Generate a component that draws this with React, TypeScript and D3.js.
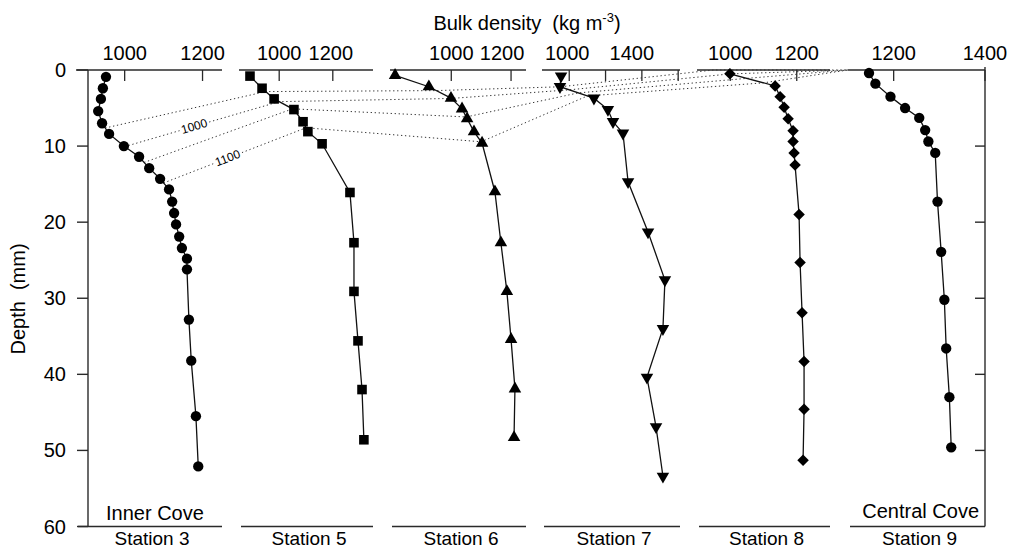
import React from 'react'
import * as d3 from 'd3'

// station names and the x-axis domains/ticks of each small panel
const stations = ['Station 3', 'Station 5', 'Station 6', 'Station 7', 'Station 8', 'Station 9']
const domains = [
  [875, 1250],
  [850, 1350],
  [795, 1250],
  [850, 1610],
  [900, 1300],
  [1100, 1400],
]
const tickValues = [
  [1000, 1200],
  [1000, 1200],
  [1000, 1200],
  [1000, 1200, 1400, 1600],
  [1000, 1200],
  [1200, 1400],
]
const tickLabels = [
  ['1000', '1200'],
  ['1000', '1200'],
  ['1000', '1200'],
  ['1000', '', '1400', ''],
  ['1000', '1200'],
  ['1200', '1400'],
]
const depthTicks = [0, 10, 20, 30, 40, 50, 60]

// depth (mm) and bulk density (kg m-3) of each core
const st3Depth = [0.9, 2.4, 3.8, 5.4, 7.0, 8.4, 10.0, 11.4, 12.9, 14.3, 15.7, 17.3, 18.8, 20.3, 21.9, 23.4, 24.8, 26.2, 32.8, 38.2, 45.5, 52.1]
const st3Density = [952, 944, 939, 932, 942, 960, 998, 1037, 1063, 1091, 1114, 1122, 1127, 1132, 1140, 1147, 1160, 1160, 1165, 1171, 1183, 1189]

const st5Depth = [0.8, 2.4, 3.8, 5.2, 6.8, 8.1, 9.7, 16.1, 22.7, 29.1, 35.6, 42.0, 48.6]
const st5Density = [891, 936, 981, 1055, 1089, 1107, 1160, 1264, 1279, 1279, 1294, 1309, 1316]

const st6Depth = [0.7, 2.2, 3.7, 5.1, 6.4, 8.1, 9.6, 16.0, 22.7, 29.1, 35.4, 41.9, 48.3]
const st6Density = [812, 925, 999, 1036, 1053, 1076, 1103, 1146, 1166, 1186, 1200, 1213, 1210]

const st7Depth = [0.8, 2.2, 3.7, 5.2, 6.8, 8.3, 14.7, 21.3, 27.6, 34.0, 40.4, 46.9, 53.4]
const st7Density = [955, 949, 1136, 1213, 1241, 1296, 1324, 1434, 1527, 1516, 1428, 1478, 1516]

const st8Depth = [0.5, 2.1, 3.5, 4.9, 6.4, 8.0, 9.4, 10.9, 12.5, 19.0, 25.3, 31.9, 38.3, 44.6, 51.3]
const st8Density = [999, 1135, 1150, 1162, 1174, 1189, 1189, 1192, 1195, 1207, 1210, 1216, 1222, 1222, 1219]

const st9Depth = [0.4, 1.8, 3.5, 5.0, 6.3, 7.9, 9.4, 10.9, 17.3, 23.9, 30.2, 36.6, 43.0, 49.6]
const st9Density = [1146, 1160, 1193, 1225, 1256, 1269, 1276, 1291, 1296, 1304, 1311, 1315, 1322, 1326]

// isopycnals drawn as dotted lines between the cores
const isoLevels = [950, 1000, 1050, 1100]
const isoLabels = ['', '1000', '', '1100']

const depths = [st3Depth, st5Depth, st6Depth, st7Depth, st8Depth, st9Depth]
const densities = [st3Density, st5Density, st6Density, st7Density, st8Density, st9Density]
const markers = ['circle', 'square', 'triangle', 'triangleDown', 'diamond', 'circle']

// layout
const W = 1010
const H = 550
const yTop = 70
const yBot = 526.5
const panelX = [
  [76, 222],
  [239, 373],
  [390, 526],
  [542, 680],
  [697, 830],
  [848, 985],
]
const labelShift = [[0, 0], [0, -2], [0, -9], [-2, 0, -10, 0], [0, 0], [0, 0]]
const font = 'Liberation Sans, Arial, Helvetica, sans-serif'
const axisColor = '#2a2a2a'

type P = { d: number; v: number }

// depth where a profile crosses a density level (deepest crossing)
function crossing(prof: P[], level: number): P {
  for (let j = prof.length - 1; j >= 0; j--) {
    if (prof[j].v < level) {
      if (j === prof.length - 1) return { d: prof[j].d, v: level }
      const a = prof[j]
      const b = prof[j + 1]
      const t = (level - a.v) / (b.v - a.v)
      return { d: a.d + t * (b.d - a.d), v: level }
    }
  }
  return { d: 0, v: level }
}

const symbolPath = (kind: string) => {
  if (kind === 'circle') return d3.symbol(d3.symbolCircle, 84)()
  if (kind === 'square') return d3.symbol(d3.symbolSquare, 92)()
  if (kind === 'diamond') return d3.symbol(d3.symbolSquare, 66)()
  return d3.symbol(d3.symbolTriangle, 68)()
}
const symbolRotate = (kind: string) =>
  kind === 'diamond' ? 45 : kind === 'triangleDown' ? 180 : 0

export default function App() {
  const y = d3.scaleLinear().domain([0, 60]).range([yTop, yBot])
  const xs = panelX.map((r, i) => d3.scaleLinear().domain(domains[i]).range(r))
  const profiles: P[][] = depths.map((ds, i) => ds.map((d, j) => ({ d, v: densities[i][j] })))

  const iso = isoLevels.map((level) =>
    profiles.map((prof, i) => {
      const c = crossing(prof, level)
      const [x0, x1] = panelX[i]
      return [Math.max(x0, Math.min(x1, xs[i](c.v))), y(c.d)] as [number, number]
    })
  )
  const dotted = d3.line()

  const xLeft = 88
  const xRight = 985

  return (
    <svg
      width={W}
      height={H}
      style={{ position: 'absolute', left: 0, top: 0, background: '#fff' }}
      fontFamily={font}
    >
      <rect width={W} height={H} fill="#fff" />

      {/* title */}
      <text x={527} y={30} textAnchor="middle" fontSize={20} style={{ whiteSpace: 'pre' }}>
        {'Bulk density  (kg m'}
        <tspan dy={-8} fontSize={13}>-3</tspan>
        <tspan dy={8}>)</tspan>
      </text>

      {/* depth axes */}
      <line x1={xLeft} x2={xLeft} y1={yTop} y2={yBot} stroke={axisColor} strokeWidth={1.4} />
      <line x1={xRight} x2={xRight} y1={yTop - 3} y2={yBot} stroke={axisColor} strokeWidth={1.4} />
      {depthTicks.map((t) => (
        <g key={t}>
          <line x1={xLeft - 11} x2={xLeft} y1={y(t)} y2={y(t)} stroke={axisColor} strokeWidth={1.4} />
          {t > 0 && t < 60 && (
            <line x1={xRight - 10} x2={xRight} y1={y(t)} y2={y(t)} stroke={axisColor} strokeWidth={1.4} />
          )}
          <text x={66} y={y(t) + 7} textAnchor="end" fontSize={20}>
            {t}
          </text>
        </g>
      ))}
      <text transform={`translate(25, 299) rotate(-90)`} textAnchor="middle" fontSize={20} style={{ whiteSpace: 'pre' }}>
        {'Depth  (mm)'}
      </text>

      {/* panels: top and bottom axes */}
      {stations.map((name, i) => {
        const [x0, x1] = panelX[i]
        return (
          <g key={name}>
            <line x1={x0} x2={x1} y1={yTop} y2={yTop} stroke={axisColor} strokeWidth={1.4} />
            <line x1={x0 + 2} x2={x1} y1={yBot} y2={yBot} stroke={axisColor} strokeWidth={1.4} />
            {tickValues[i].map((t, k) => (
              <g key={t}>
                <line x1={xs[i](t)} x2={xs[i](t)} y1={yTop} y2={yTop + 11} stroke={axisColor} strokeWidth={1.3} />
                <text x={xs[i](t) + (labelShift[i][k] || 0)} y={60} textAnchor="middle" fontSize={20}>
                  {tickLabels[i][k]}
                </text>
              </g>
            ))}
            <text x={(x0 + x1) / 2 + 3} y={545} textAnchor="middle" fontSize={19}>
              {name}
            </text>
          </g>
        )
      })}

      <text x={106} y={520} fontSize={20}>Inner Cove</text>
      <text x={979} y={518} fontSize={20} textAnchor="end">Central Cove</text>

      {/* isopycnals */}
      {iso.map((pts, k) => (
        <path
          key={isoLevels[k]}
          d={dotted(pts) || ''}
          fill="none"
          stroke="#333"
          strokeWidth={1}
          strokeDasharray="1.3 2.7"
        />
      ))}
      {iso.map((pts, k) => {
        if (!isoLabels[k]) return null
        const [a, b] = pts
        const t = 0.45
        const cx = a[0] + t * (b[0] - a[0])
        const cy = a[1] + t * (b[1] - a[1])
        const ang = (Math.atan2(b[1] - a[1], b[0] - a[0]) * 180) / Math.PI
        return (
          <g key={'lab' + k} transform={`translate(${cx},${cy}) rotate(${ang})`}>
            <rect x={-15} y={-6} width={30} height={11} fill="#fff" />
            <text x={0} y={4} textAnchor="middle" fontSize={12}>
              {isoLabels[k]}
            </text>
          </g>
        )
      })}

      {/* profiles */}
      {profiles.map((prof, i) => {
        const line = d3
          .line<P>()
          .x((p) => xs[i](p.v))
          .y((p) => y(p.d))
        const path = symbolPath(markers[i]) || ''
        const rot = symbolRotate(markers[i])
        return (
          <g key={stations[i]}>
            <path d={line(prof) || ''} fill="none" stroke="#111" strokeWidth={1.3} />
            {prof.map((p, j) => (
              <path
                key={j}
                d={path}
                transform={`translate(${xs[i](p.v)},${y(p.d)}) rotate(${rot})`}
                fill="#000"
              />
            ))}
          </g>
        )
      })}
    </svg>
  )
}
